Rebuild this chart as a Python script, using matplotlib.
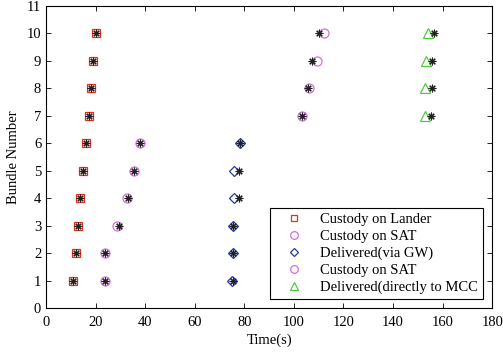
import matplotlib.pyplot as plt

plt.rcParams['font.family'] = ['Liberation Serif', 'DejaVu Serif']

# 번들 번호
bundles_a = [1, 2, 3, 4, 5, 6, 7, 8, 9, 10]
bundles_b = [1, 2, 3, 4, 5, 6]
bundles_c = [7, 8, 9, 10]

# 시간(s) 값
lander = [11.0, 12.0, 13.1, 13.8, 15.0, 16.1, 17.3, 18.1, 18.9, 20.1]
lander_star = [11.0, 12.0, 13.1, 13.8, 15.0, 16.1, 17.3, 18.1, 18.9, 20.1]
sat1 = [23.7, 23.7, 28.6, 32.5, 35.5, 37.9]
sat1_star = [23.7, 23.7, 29.3, 33.2, 35.5, 37.9]
gw = [75.2, 75.3, 75.3, 76.0, 76.0, 78.3]
gw_star = [75.3, 75.4, 75.4, 77.8, 77.8, 78.3]
sat2 = [103.2, 106.1, 109.4, 112.2]
sat2_star = [103.2, 105.6, 107.2, 110.2]
mcc = [153.0, 153.0, 153.3, 154.1]
mcc_star = [155.5, 155.6, 155.6, 156.6]

fig = plt.figure(figsize=(5.03, 3.54), dpi=100)
ax = fig.add_axes([0.0915, 0.130, 0.887, 0.853])

ax.plot(lander, bundles_a, 's', mfc='none', mec='#e0301e', ms=5.5, mew=0.9, label='Custody on Lander')
ax.plot(sat1, bundles_b, 'o', mfc='none', mec='#d070d8', ms=6.5, mew=0.9, label='Custody on SAT')
ax.plot(gw, bundles_b, 'D', mfc='none', mec='#2838a8', ms=5, mew=0.9, label='Delivered(via GW)')
ax.plot(sat2, bundles_c, 'o', mfc='none', mec='#d070d8', ms=6.5, mew=0.9, label='Custody on SAT')
ax.plot(mcc, bundles_c, '^', mfc='none', mec='#50c840', ms=7.5, mew=0.9, label='Delivered(directly to MCC')

# 별표 (실제 시각)
for xs, ys in [(lander_star, bundles_a), (sat1_star, bundles_b), (gw_star, bundles_b),
               (sat2_star, bundles_c), (mcc_star, bundles_c)]:
    ax.plot(xs, ys, linestyle='none', marker=(8, 2, 0), color='#202020', ms=5.5, mew=0.8)

ax.set_xlim(0, 180)
ax.set_ylim(0, 11)
ax.set_xticks(range(0, 181, 20))
ax.set_yticks(range(0, 12))
ax.tick_params(direction='in', top=True, right=True, labelsize=10.5, length=3.5, width=0.6)
ax.tick_params(axis='x', pad=6)
for s in ax.spines.values():
    s.set_linewidth(0.8)
ax.set_xlabel('Time(s)', fontsize=10.5, labelpad=3)
ax.set_ylabel('Bundle Number', fontsize=10.5, labelpad=5)

leg = ax.legend(loc='lower right', fontsize=10.5, frameon=True, fancybox=False,
                edgecolor='black', framealpha=1, borderaxespad=0.6, markerscale=0.85,
                handletextpad=0.5, labelspacing=0.25, borderpad=0.35, handlelength=2.6)
leg.get_frame().set_linewidth(0.8)

fig.savefig('out.png', dpi=100)
